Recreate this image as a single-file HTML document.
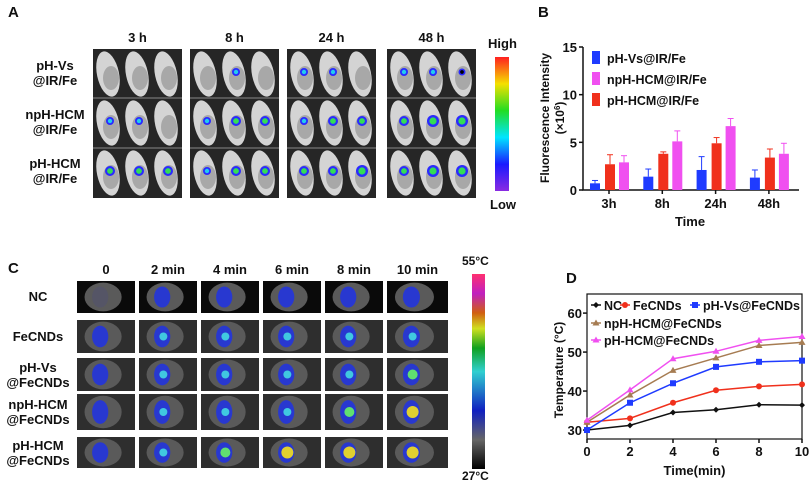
<!DOCTYPE html>
<html><head><meta charset="utf-8">
<style>
body{margin:0;background:#fff;width:812px;height:485px;overflow:hidden;font-family:"Liberation Sans",Arial,sans-serif;}
#root{position:relative;width:812px;height:485px;}
.t{position:absolute;font-weight:bold;color:#111;white-space:nowrap;}
.lab{position:absolute;font-weight:bold;font-size:13px;text-align:center;line-height:15px;color:#111;}
</style></head><body>
<div id="root">
<div class="t" style="left:8px;top:4px;font-size:15px">A</div>
<div class="t" style="left:538px;top:4px;font-size:15px">B</div>
<div class="t" style="left:8px;top:260px;font-size:15px">C</div>
<div class="t" style="left:566px;top:270px;font-size:15px">D</div>
<svg id="left" width="560" height="485" style="position:absolute;left:0;top:0">
<defs>
<linearGradient id="cbA" x1="0" y1="1" x2="0" y2="0">
<stop offset="0" stop-color="#8a2be2"/><stop offset="0.2" stop-color="#1a1aff"/><stop offset="0.4" stop-color="#00e5ff"/><stop offset="0.6" stop-color="#22dd22"/><stop offset="0.8" stop-color="#f5e000"/><stop offset="1" stop-color="#ff2020"/></linearGradient>
<linearGradient id="cbC" x1="0" y1="1" x2="0" y2="0">
<stop offset="0" stop-color="#000"/><stop offset="0.15" stop-color="#666"/><stop offset="0.3" stop-color="#1020c0"/><stop offset="0.5" stop-color="#30d0d0"/><stop offset="0.62" stop-color="#10a020"/><stop offset="0.72" stop-color="#d0e020"/><stop offset="0.8" stop-color="#d06010"/><stop offset="0.9" stop-color="#c020c0"/><stop offset="1" stop-color="#ff3070"/></linearGradient>
</defs>
<g id="ga"></g><g id="gc"></g>
<rect x="495" y="57" width="14" height="134" fill="url(#cbA)"/>
<rect x="472" y="274" width="13" height="195" fill="url(#cbC)"/>
</svg>
<div class="t" style="left:488px;top:36px;font-size:13px">High</div>
<div class="t" style="left:490px;top:197px;font-size:13px">Low</div>
<div class="t" style="left:462px;top:254px;font-size:12px">55°C</div>
<div class="t" style="left:462px;top:469px;font-size:12px">27°C</div>
<div id="labs"></div>
<svg id="chartB" width="280" height="235" style="position:absolute;left:532px;top:0"></svg>
<svg id="chartD" width="260" height="215" style="position:absolute;left:552px;top:270px"></svg>
</div>
<script>
var NS='http://www.w3.org/2000/svg';
function mk(p,tag,a){var e=document.createElementNS(NS,tag);for(var k in a)e.setAttribute(k,a[k]);p.appendChild(e);return e;}
function txt(p,x,y,s,size,anchor,extra){var e=mk(p,'text',Object.assign({x:x,y:y,'font-size':size,'font-weight':'bold','text-anchor':anchor||'middle','font-family':'Liberation Sans, Arial, sans-serif',fill:'#111'},extra||{}));e.textContent=s;return e;}
var labs=document.getElementById('labs');
function lab(x,y,w,html,name){var d=document.createElement('div');d.className='lab';d.style.left=x+'px';d.style.top=y+'px';d.style.width=w+'px';d.innerHTML=html;


labs.appendChild(d);}
// Panel A
var ga=document.getElementById('ga');
var blocks=[93,190,287,387],times=['3 h','8 h','24 h','48 h'];
var rowsA=[49,98,148],rowLabA=['pH-Vs<br>@IR/Fe','npH-HCM<br>@IR/Fe','pH-HCM<br>@IR/Fe'];
var spot=[[0,0,0],[0,1,0],[1,1,0],[1,1,0.5],[1,1,0],[1,2,2],[1,2,2],[2,3,3],[2,2,2],[1,2,2],[2,2,3],[2,3,3]];
var spotCol=['#2233ff','#22ccee','#33dd55','#33dd55'];
blocks.forEach(function(bx,bi){
 var r=mk(ga,'rect',{x:bx,y:49,width:89,height:149,fill:'#262626'});
 
 
 for(var ri=0;ri<3;ri++){
  var y0=rowsA[ri];
  for(var m=0;m<3;m++){
   var cx=bx+15+m*29,cy=y0+25;
   mk(ga,'ellipse',{cx:cx,cy:cy,rx:11,ry:23,fill:'#d4d4d4',transform:'rotate(-12 '+cx+' '+cy+')'});
   mk(ga,'ellipse',{cx:cx+3,cy:cy+4,rx:8,ry:12,fill:'#a8a8a8'});
   var lv=spot[ri*4+bi][m];
   if(lv>0){mk(ga,'circle',{cx:cx+2,cy:cy-2,r:3+lv,fill:'#2a2aff'});mk(ga,'circle',{cx:cx+2,cy:cy-2,r:1.5+lv*0.7,fill:spotCol[lv]});}
  }
  if(ri>0)mk(ga,'line',{x1:bx,x2:bx+89,y1:y0,y2:y0,stroke:'#888','stroke-width':1});
 }
 lab(bx,30,89,times[bi],'time-header-'+times[bi].replace(' ',''));
});
rowLabA.forEach(function(s,i){lab(10,58+i*49,90,s,'row-label-a-'+(i+1));});
// Panel C
var gc=document.getElementById('gc');
var colsC=[[77,58],[139,58],[201,58],[263,58],[325,58],[387,61]],hdrC=['0','2 min','4 min','6 min','8 min','10 min'];
var rowsC=[[281,32],[320,33],[358,33],[394,36],[437,31]],rowLabC=['NC','FeCNDs','pH-Vs<br>@FeCNDs','npH-HCM<br>@FeCNDs','pH-HCM<br>@FeCNDs'];
var heat=[[0,0,0,0,0,0],[0,1,1,1,1,1],[0,1,1,1,1,2],[0,1,1,1,2,3],[0,1,2,3,3,3]];
var hc=['#3b4fe0','#40c8e0','#60e070','#e0d030'];
colsC.forEach(function(c,ci){
 lab(c[0]-10,262,c[1]+20,hdrC[ci],'time-header-c-'+ci);
 rowsC.forEach(function(r,ri){
  var t=mk(gc,'rect',{x:c[0],y:r[0],width:c[1],height:r[1],fill:ri==0?'#0a0a0a':'#2e2e2e'});
  
  
  mk(gc,'ellipse',{cx:c[0]+c[1]*0.45,cy:r[0]+r[1]*0.5,rx:c[1]*0.32,ry:r[1]*0.45,fill:'#5a5a5a'});
  mk(gc,'ellipse',{cx:c[0]+c[1]*0.4,cy:r[0]+r[1]*0.5,rx:c[1]*0.14,ry:r[1]*0.33,fill:ri==0&&ci==0?'#556':'#2838d0'});
  var lv=heat[ri][ci];
  if(lv>0)mk(gc,'circle',{cx:c[0]+c[1]*0.42,cy:r[0]+r[1]*0.5,r:3+lv,fill:hc[lv]});
 });
});
rowLabC.forEach(function(s,i){var r=rowsC[i];var two=s.indexOf('<br>')>0;lab(0,r[0]+r[1]/2-(two?15:8),76,s,'row-label-c-'+(i+1));});

// Chart B
var bCats=['3h','8h','24h','48h'];
var bSeries=['pH-Vs@IR/Fe','npH-HCM@IR/Fe','pH-HCM@IR/Fe'];
var bBlue=[0.7,1.4,2.1,1.3], bBlueErr=[0.3,0.8,1.4,0.8];
var bRed=[2.7,3.8,4.9,3.4], bRedErr=[1.0,0.2,0.6,0.9];
var bPink=[2.9,5.1,6.7,3.8], bPinkErr=[0.7,1.1,0.8,1.1];
var bTicks=[0,5,10,15];
(function(){
 var s=document.getElementById('chartB');var ox=532;
 var x0=583-ox,x1=799-ox,yT=47,yB=190;
 function Y(v){return yB-(v/15)*(yB-yT);}
 function GX(i){return 609-ox+i*53.3;}
 var ax=mk(s,'path',{d:'M'+x0+' '+yT+'V'+yB+'H'+x1,stroke:'#111','stroke-width':1.5,fill:'none'});
 
 
 bTicks.forEach(function(t){mk(s,'line',{x1:x0-4,x2:x0,y1:Y(t),y2:Y(t),stroke:'#111','stroke-width':1.5});
  var e=txt(s,x0-6,Y(t)+5,String(t),13,'end');
  
  });
 var groups=[[bBlue,bBlueErr,'#1f3bff',-14],[bRed,bRedErr,'#f0301c',1],[bPink,bPinkErr,'#f050f0',15]];
 bCats.forEach(function(c,i){
  var e=txt(s,GX(i),208,c,13,'middle');
  
  
  mk(s,'line',{x1:GX(i),x2:GX(i),y1:yB,y2:yB+4,stroke:'#111','stroke-width':1.5});
  groups.forEach(function(g){
   var cx=GX(i)+g[3],v=g[0][i],er=g[1][i];
   mk(s,'line',{x1:cx,x2:cx,y1:Y(v),y2:Y(v+er),stroke:g[2],'stroke-width':1});
   mk(s,'line',{x1:cx-3,x2:cx+3,y1:Y(v+er),y2:Y(v+er),stroke:g[2],'stroke-width':1});
   var b=mk(s,'rect',{x:cx-5,y:Y(v),width:10,height:yB-Y(v),fill:g[2]});
   
   
  });
 });
 bSeries.forEach(function(n,i){var col=[groups[0][2],groups[2][2],groups[1][2]][i];
  var y=58+i*21;mk(s,'rect',{x:592-ox,y:y-7,width:8,height:13,fill:col});
  var e=txt(s,607-ox,y+5,n,12.5,'start');
  
  });
 var t=txt(s,0,0,'Fluorescence Intensity',12,'middle',{transform:'translate('+(549-ox)+' 118) rotate(-90)'});
 
 
 var t2=mk(s,'text',{transform:'translate('+(564-ox)+' 118) rotate(-90)','font-size':12,'font-weight':'bold','text-anchor':'middle','font-family':'Liberation Sans, Arial, sans-serif',fill:'#111'});
 t2.innerHTML='(×10<tspan dy="-4" font-size="8">6</tspan><tspan dy="4">)</tspan>';
 
 
 var xt=txt(s,690-ox,226,'Time',13,'middle');
 
 
})();

// Chart D
var dTimes=[0,2,4,6,8,10];
var dNames=['NC','FeCNDs','pH-Vs@FeCNDs','npH-HCM@FeCNDs','pH-HCM@FeCNDs'];
var dNC=[30,31.2,34.5,35.2,36.5,36.4];
var dFe=[32,33,37,40.2,41.2,41.7];
var dVs=[30,37,42,46.2,47.5,47.8];
var dNp=[32,39,45.3,48.5,51.7,52.5];
var dPh=[32.5,40.3,48.3,50.2,53,54];
var dYTicks=[30,40,50,60];
(function(){
 var s=document.getElementById('chartD');var ox=552,oy=270;
 var x0=587-ox,x1=802-ox,yT=294-oy,yB=439-oy;
 function X(v){return x0+(v/10)*(x1-x0);}
 function Y(v){return yB-(v-27.7)/(64.9-27.7)*(yB-yT);}
 var ax=mk(s,'rect',{x:x0,y:yT,width:x1-x0,height:yB-yT,fill:'none',stroke:'#111','stroke-width':1.2});
 
 
 dYTicks.forEach(function(t){mk(s,'line',{x1:x0-4,x2:x0,y1:Y(t),y2:Y(t),stroke:'#111','stroke-width':1.5});
  var e=txt(s,x0-5,Y(t)+5,String(t),13,'end');
  
  });
 dTimes.forEach(function(t){mk(s,'line',{x1:X(t),x2:X(t),y1:yB,y2:yB+4,stroke:'#111','stroke-width':1.5});
  var e=txt(s,X(t),yB+17,String(t),13,'middle');
  
  });
 var series=[[dNC,'#111','diamond'],[dFe,'#f0301c','circle'],[dVs,'#1f3bff','square'],[dNp,'#a67c52','tri'],[dPh,'#f050f0','tri']];
 function marker(g,x,y,type,col){
  if(type=='circle')mk(g,'circle',{cx:x,cy:y,r:3,fill:col});
  else if(type=='square')mk(g,'rect',{x:x-3,y:y-3,width:6,height:6,fill:col});
  else if(type=='diamond')mk(g,'path',{d:'M'+x+' '+(y-3)+'L'+(x+3)+' '+y+'L'+x+' '+(y+3)+'L'+(x-3)+' '+y+'Z',fill:col});
  else mk(g,'path',{d:'M'+x+' '+(y-3.5)+'L'+(x+3.5)+' '+(y+2.5)+'L'+(x-3.5)+' '+(y+2.5)+'Z',fill:col});
 }
 series.forEach(function(sr,si){
  var g=mk(s,'g',{});
  
  
  var d=sr[0].map(function(v,i){return (i?'L':'M')+X(dTimes[i])+' '+Y(v);}).join('');
  mk(g,'path',{d:d,stroke:sr[1],'stroke-width':1.5,fill:'none'});
  sr[0].forEach(function(v,i){marker(g,X(dTimes[i]),Y(v),sr[2],sr[1]);});
 });
 var lp=[[591,305],[620,305],[690,305],[591,323],[591,340]];
 lp.forEach(function(p,i){var sr=series[i];var x=p[0]-ox,y=p[1]-oy;
  mk(s,'line',{x1:x,x2:x+10,y1:y,y2:y,stroke:sr[1],'stroke-width':1.5});marker(s,x+5,y,sr[2],sr[1]);
  var e=txt(s,x+13,y+5,dNames[i],12.5,'start');
  
  });
 var yt=txt(s,0,0,'Temperature (°C)',12,'middle',{transform:'translate('+(563-ox)+' '+(370-oy)+') rotate(-90)'});
 
 
 var xt=txt(s,(x0+x1)/2,yB+36,'Time(min)',13,'middle');
 
 
})();
</script>
</body></html>
